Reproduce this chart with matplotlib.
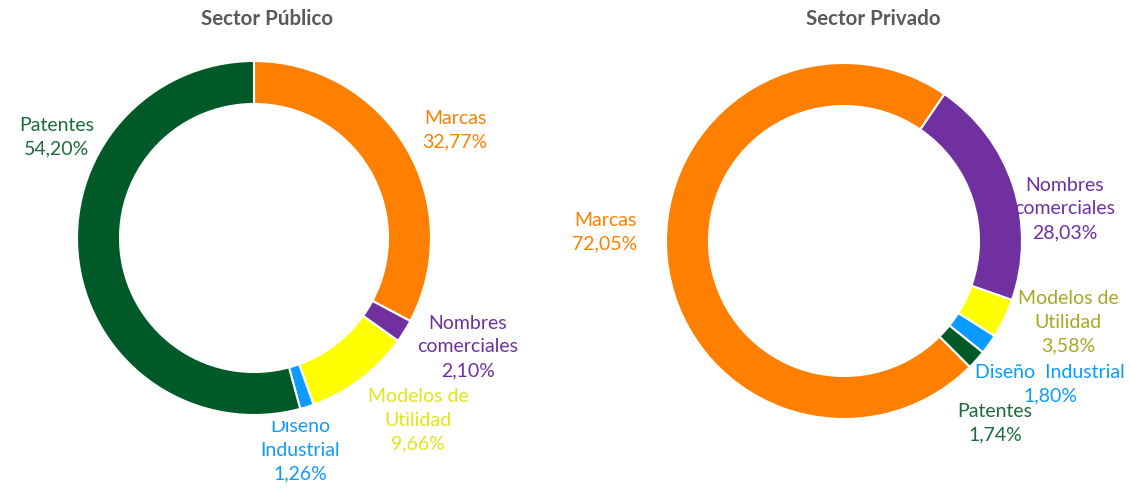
import matplotlib
matplotlib.use('Agg')
import matplotlib.pyplot as plt
from matplotlib.patches import Rectangle

# Data
categories = ['Marcas', 'Nombres comerciales', 'Modelos de Utilidad',
              'Diseño Industrial', 'Patentes']
publico = [32.77, 2.10, 9.66, 1.26, 54.20]
# wedge sizes as drawn (Nombres label says 28,03% but wedge is ~20.8%)
privado = [72.05, 20.83, 3.58, 1.80, 1.74]
labels_publico = ['Marcas\n32,77%', 'Nombres\ncomerciales\n2,10%',
                  'Modelos de\nUtilidad\n9,66%', 'Diseño\nIndustrial\n1,26%',
                  'Patentes\n54,20%']
labels_privado = ['Marcas\n72,05%', 'Nombres\ncomerciales\n28,03%',
                  'Modelos de\nUtilidad\n3,58%', 'Diseño  Industrial\n1,80%',
                  'Patentes\n1,74%']
titles = ['Sector Público', 'Sector Privado']

colors = ['#FF8000', '#7030A0', '#FFFF00', '#0B9BFF', '#005A28']
label_colors_pub = ['#FF8000', '#7030A0', '#E3E31C', '#0B9BFF', '#1E6B3C']
label_colors_priv = ['#FF8000', '#7030A0', '#A8A81E', '#0B9BFF', '#1E6B3C']

W, H = 1131, 488
fig = plt.figure(figsize=(W / 100, H / 100), dpi=100)
ax = fig.add_axes([0, 0, 1, 1])

def py(y):
    # convert pixel row (from top) to data y
    return H - y

wp = dict(width=43, edgecolor='white', linewidth=1.5)
ax.pie(publico, colors=colors, startangle=90, counterclock=False,
       center=(254, py(238)), radius=177, wedgeprops=wp, frame=True)
ax.pie(privado, colors=colors, startangle=-45, counterclock=False,
       center=(844, py(241)), radius=178, wedgeprops=wp, frame=True)

ax.set_xlim(0, W)
ax.set_ylim(0, H)
ax.set_aspect('equal')
ax.axis('off')

font = 'Lato'
lbl_kw = dict(ha='center', va='center', fontsize=14, family=font,
              linespacing=1.47)

# label positions in pixels (center of text block)
pos_pub = [(455, 130), (468, 347), (418, 420), (300, 450), (57, 137)]
pos_priv = [(605, 232), (1065, 209), (1068, 322), (1050, 384), (995, 423)]

for i, (txt, (x, y), c) in enumerate(zip(labels_publico, pos_pub,
                                          label_colors_pub)):
    t = ax.text(x, py(y), txt, color=c, **lbl_kw)
    if i == 3:
        # top of "Diseño" is cut off in the original
        clip = Rectangle((0, 0), W, py(421), transform=ax.transData)
        t.set_clip_on(True)
        t.set_clip_path(clip)
for txt, (x, y), c in zip(labels_privado, pos_priv, label_colors_priv):
    ax.text(x, py(y), txt, color=c, **lbl_kw)

ax.text(267, py(19), titles[0], ha='center', va='center', fontsize=14.8,
        fontweight='bold', color='#595959', family=font)
ax.text(873, py(19), titles[1], ha='center', va='center', fontsize=14.8,
        fontweight='bold', color='#595959', family=font)

fig.savefig('out.png', dpi=100, facecolor='white')
